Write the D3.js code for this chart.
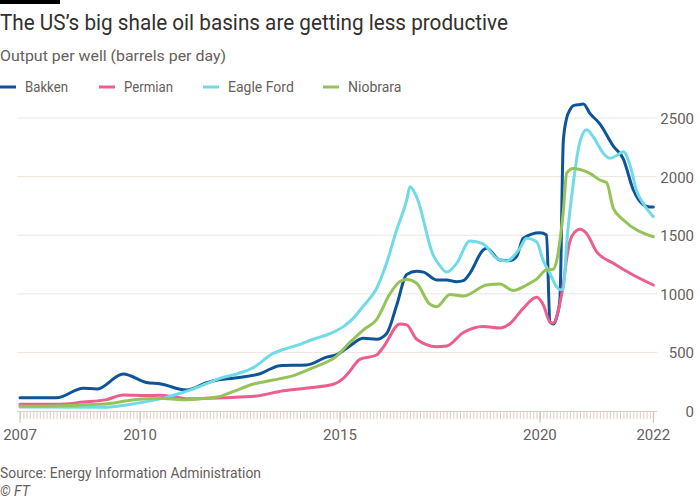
<!DOCTYPE html>
<html>
<head>
<meta charset="utf-8">
<script src="https://cdn.jsdelivr.net/npm/d3@7"></script>
<style>
  html, body { margin: 0; padding: 0; background: #ffffff; }
  svg { display: block; }
  text { font-family: Roboto, "Noto Sans", sans-serif; }
</style>
</head>
<body>
<svg id="chart" width="700" height="500"></svg>
<script>
// ---- Data ----
const seriesNames = ["Bakken", "Permian", "Eagle Ford", "Niobrara"];
const seriesColors = ["#0f5499", "#eb5e8d", "#70dbe6", "#96c25a"];

const bakken = [
  ["2007-01",113],["2007-12",113],["2008-08",195],["2008-12",187],["2009-08",316],
  ["2010-03",243],["2010-07",232],["2011-03",179],["2011-09",241],["2012-01",268],
  ["2012-05",279],["2013-01",318],["2013-07",387],["2014-03",392],["2014-09",460],
  ["2014-12",480],["2015-04",555],["2015-08",620],["2015-12",613],["2016-03",660],
  ["2016-06",900],["2016-09",1165],["2016-12",1192],["2017-02",1185],["2017-06",1118],
  ["2017-09",1118],["2017-12",1103],["2018-02",1112],["2018-04",1175],["2018-08",1374],
  ["2018-09",1388],["2019-01",1288],["2019-04",1283],["2019-06",1317],["2019-08",1473],
  ["2020-01",1521],["2020-03",1502],["2020-04",760],["2020-05",742],["2020-06",800],
  ["2020-07",950],["2020-08",2300],["2020-09",2500],["2020-10",2570],["2020-11",2605],
  ["2021-01",2615],["2021-02",2620],["2021-04",2540],["2021-07",2450],["2021-11",2260],
  ["2022-02",2150],["2022-05",1890],["2022-08",1760],["2022-10",1740],["2022-11",1740]
];

const permian = [
  ["2007-01",57],["2007-12",57],["2008-08",76],["2009-03",97],["2009-08",136],
  ["2010-03",132],["2010-07",134],["2010-11",122],["2011-04",104],["2012-02",113],
  ["2012-12",128],["2013-08",173],["2014-04",199],["2014-11",228],["2015-02",279],
  ["2015-04",340],["2015-07",441],["2015-12",478],["2016-02",545],["2016-07",742],
  ["2016-09",735],["2016-12",612],["2017-06",549],["2017-09",555],["2018-02",670],
  ["2018-08",722],["2019-01",708],["2019-04",745],["2019-08",876],["2019-12",970],
  ["2020-02",904],["2020-04",760],["2020-05",750],["2020-07",919],["2020-08",1080],
  ["2020-09",1300],["2020-10",1450],["2020-12",1540],["2021-01",1550],["2021-03",1515],
  ["2021-06",1360],["2021-11",1260],["2022-05",1160],["2022-11",1075]
];

const eagleFord = [
  ["2007-01",35],["2009-03",33],["2009-09",52],["2010-03",80],["2010-08",110],
  ["2011-02",160],["2011-08",222],["2012-01",279],["2012-06",316],["2012-11",370],
  ["2013-05",492],["2013-08",525],["2014-01",569],["2014-05",612],["2014-10",660],
  ["2015-02",720],["2015-05",790],["2015-08",895],["2015-12",1045],["2016-03",1260],
  ["2016-06",1544],["2016-09",1800],["2016-10",1914],["2016-12",1825],["2017-05",1330],
  ["2017-07",1240],["2017-09",1185],["2017-12",1260],["2018-04",1450],["2018-08",1425],
  ["2018-12",1303],["2019-03",1280],["2019-07",1388],["2019-09",1473],["2019-12",1445],
  ["2020-02",1280],["2020-04",1175],["2020-06",1060],["2020-07",1035],["2020-08",1040],
  ["2020-09",1431],["2020-11",1950],["2021-01",2300],["2021-03",2400],["2021-05",2340],
  ["2021-08",2200],["2021-10",2156],["2021-12",2180],["2022-02",2212],["2022-04",2100],
  ["2022-06",1880],["2022-08",1770],["2022-11",1658]
];

const niobrara = [
  ["2007-01",40],["2008-06",50],["2009-04",64],["2009-09",88],["2010-03",105],
  ["2010-08",106],["2011-03",96],["2011-09",108],["2012-01",125],["2012-05",165],
  ["2012-11",230],["2013-05",264],["2013-11",302],["2014-05",370],["2014-12",468],
  ["2015-04",585],["2015-08",691],["2015-12",780],["2016-04",1000],["2016-07",1105],
  ["2016-09",1122],["2016-12",1090],["2017-04",910],["2017-06",890],["2017-10",995],
  ["2018-02",981],["2018-09",1075],["2019-01",1083],["2019-05",1028],["2019-09",1075],
  ["2019-12",1125],["2020-03",1205],["2020-05",1210],["2020-06",1280],["2020-07",1450],
  ["2020-08",1700],["2020-09",2030],["2020-11",2070],["2021-01",2060],["2021-04",2028],
  ["2021-07",1971],["2021-09",1948],["2021-11",1729],["2022-02",1630],["2022-11",1487]
];

const yTicks = [0, 500, 1000, 1500, 2000, 2500];
const xTickLabels = [["2007-01","2007"],["2010-01","2010"],["2015-01","2015"],["2020-01","2020"],["2022-11","2022"]];
const xDomain = ["2007-01", "2022-11"];

const titleText = "The US\u2019s big shale oil basins are getting less productive";
const subtitleText = "Output per well (barrels per day)";
const sourceText = "Source: Energy Information Administration";
const creditText = "\u00a9 FT";

// ---- Drawing ----
const parse = d3.timeParse("%Y-%m");
const svg = d3.select("#chart");
const allSeries = [bakken, permian, eagleFord, niobrara].map((arr, i) => ({
  name: seriesNames[i], color: seriesColors[i],
  values: arr.map(d => ({date: parse(d[0]), value: d[1]}))
}));

const x = d3.scaleTime().domain(xDomain.map(parse)).range([20, 653.3]);
const y = d3.scaleLinear().domain([0, 2500]).range([411, 118]);

function fitText(sel, target) {
  const n = sel.node();
  const w = n.getComputedTextLength();
  if (Math.abs(w - target) > 2) {
    sel.attr("textLength", target).attr("lengthAdjust", "spacingAndGlyphs");
  }
}

// FT bar
svg.append("rect").attr("x", 0).attr("y", 0).attr("width", 60).attr("height", 4).attr("fill", "#000");

// Title, subtitle
const t = svg.append("text").attr("x", 0).attr("y", 30).attr("fill", "#33302e")
  .attr("font-size", 22).text(titleText);
fitText(t, 508);
const st = svg.append("text").attr("x", 0).attr("y", 61).attr("fill", "#66605c")
  .attr("font-size", 15).text(subtitleText);
fitText(st, 226);

// Legend
const legendX = [0, 99, 203, 323];
const legendTextEnd = [68, 173, 293, 400];
allSeries.forEach((s, i) => {
  svg.append("line").attr("x1", legendX[i]).attr("x2", legendX[i] + 16)
    .attr("y1", 87).attr("y2", 87).attr("stroke", s.color).attr("stroke-width", 3);
  const lt = svg.append("text").attr("x", legendX[i] + 25).attr("y", 92)
    .attr("fill", "#66605c").attr("font-size", 14).text(s.name);
  fitText(lt, legendTextEnd[i] - (legendX[i] + 25));
});

// Gridlines
svg.append("g").selectAll("line").data(yTicks.filter(d => d > 0)).join("line")
  .attr("x1", 17).attr("x2", 657).attr("y1", d => y(d)).attr("y2", d => y(d))
  .attr("stroke", "#ece5de").attr("stroke-width", 1);

// Y labels
svg.append("g").selectAll("text").data(yTicks).join("text")
  .attr("x", 694).attr("y", d => y(d) + 6).attr("text-anchor", "end")
  .attr("fill", "#66605c").attr("font-size", 15).text(d => d);

// X axis: monthly minor ticks
const months = d3.timeMonth.range(parse(xDomain[0]), d3.timeMonth.offset(parse(xDomain[1]), 1));
const gx = svg.append("g").attr("transform", "translate(0,411)");
const xAxis = d3.axisBottom(x).tickValues(months).tickSize(7).tickFormat("");
gx.call(xAxis);
gx.select(".domain").attr("stroke", "#d9d1c9").attr("d", "M17,0.5H657");
gx.selectAll(".tick line").attr("stroke", "#d9d1c9").attr("transform", "translate(0,1)");

const majors = xTickLabels.map(d => ({date: parse(d[0]), label: d[1]}));
svg.append("g").selectAll("line").data(majors).join("line")
  .attr("x1", d => x(d.date)).attr("x2", d => x(d.date))
  .attr("y1", 412).attr("y2", 423).attr("stroke", "#c9c0b7");
svg.append("g").selectAll("text").data(majors).join("text")
  .attr("x", d => x(d.date)).attr("y", 440).attr("text-anchor", "middle")
  .attr("fill", "#66605c").attr("font-size", 15).text(d => d.label);

// Lines
const line = d3.line().x(d => x(d.date)).y(d => y(d.value)).curve(d3.curveMonotoneX);
svg.append("g").selectAll("path").data(allSeries).join("path")
  .attr("d", d => line(d.values)).attr("fill", "none")
  .attr("stroke", d => d.color).attr("stroke-width", 3)
  .attr("stroke-linejoin", "round").attr("stroke-linecap", "round");

// Source
const so = svg.append("text").attr("x", 0).attr("y", 478).attr("fill", "#66605c")
  .attr("font-size", 14).text(sourceText);
fitText(so, 261);
svg.append("text").attr("x", 0).attr("y", 496).attr("fill", "#66605c")
  .attr("font-size", 14).attr("font-style", "italic").text(creditText);
</script>
</body>
</html>
